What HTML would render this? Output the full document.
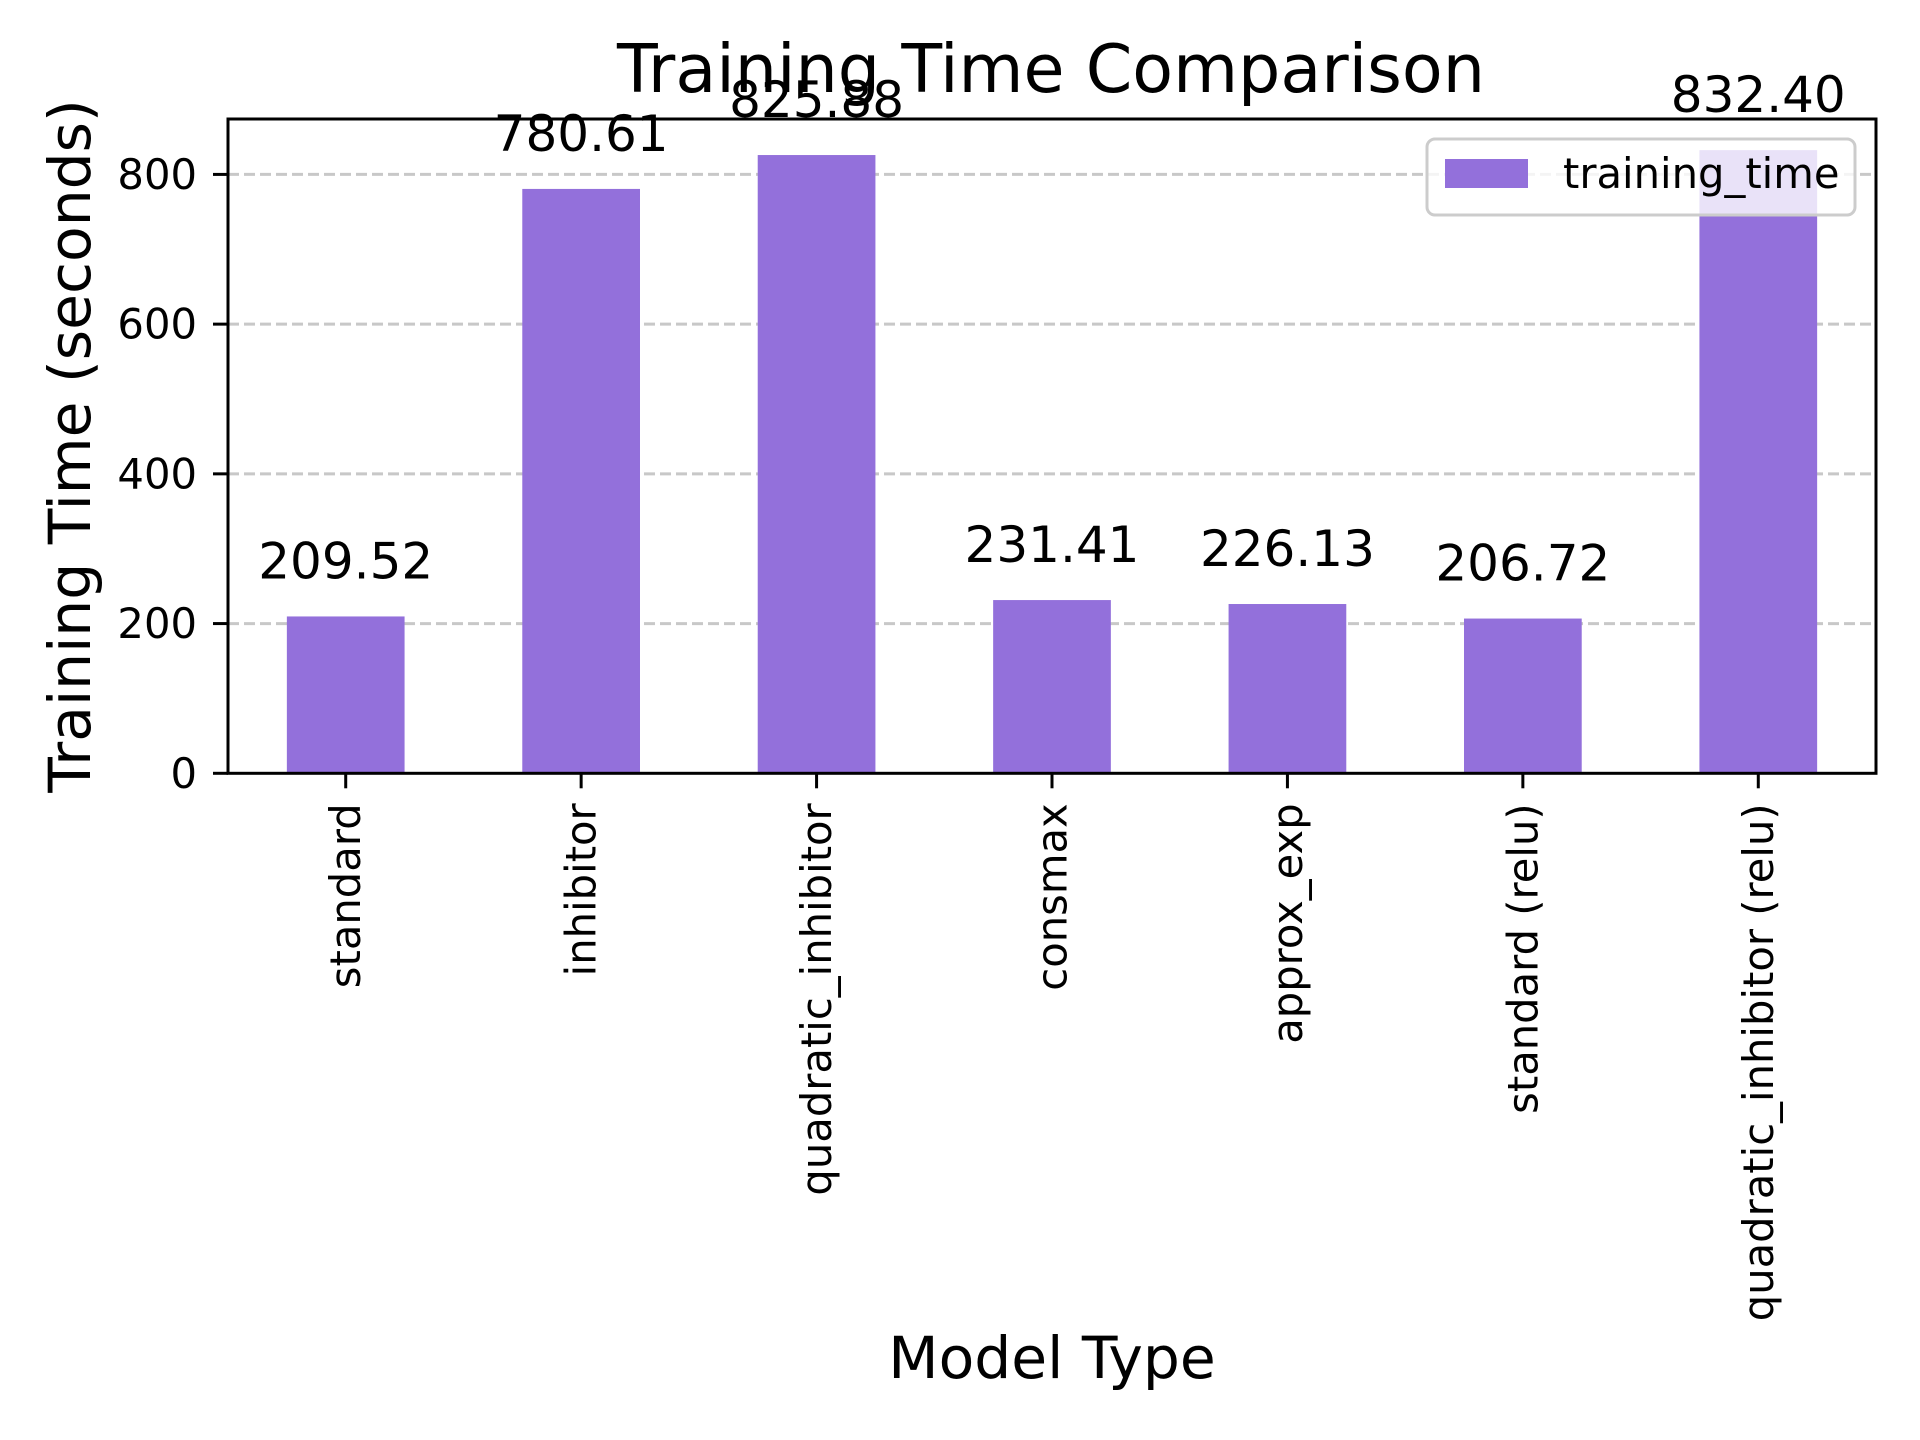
<!DOCTYPE html>
<html><head><meta charset="utf-8"><style>
html,body{margin:0;padding:0;background:#fff;}
svg{display:block;font-family:"DejaVu Sans","Liberation Sans",sans-serif;}
</style></head><body>
<svg id="chart" width="1920" height="1440" viewBox="0 0 1920 1440" xmlns="http://www.w3.org/2000/svg">
<rect width="1920" height="1440" fill="#fff"/>
<g id="grid"></g>
<g id="bars"></g>
<g id="labels"></g>
<g id="axes"></g>
<text x="1051" y="92" font-size="66.7" text-anchor="middle">Training Time Comparison</text>
<text x="1052" y="1378" font-size="58.3" text-anchor="middle">Model Type</text>
<text transform="translate(90,446) rotate(-90)" font-size="58.3" text-anchor="middle">Training Time (seconds)</text>
<g>
<rect x="1427" y="139" width="428" height="76" rx="8" fill="#fff" fill-opacity="0.8" stroke="#cccccc" stroke-width="3"/>
<rect x="1445" y="159" width="83" height="29" fill="#9370DB"/>
<text x="1563" y="188" font-size="41.7">training_time</text>
</g>
</svg>
<script>
const categories = ["standard","inhibitor","quadratic_inhibitor","consmax","approx_exp","standard (relu)","quadratic_inhibitor (relu)"];
const values = [209.52,780.61,825.88,231.41,226.13,206.72,832.40];
const valueLabels = ["209.52","780.61","825.88","231.41","226.13","206.72","832.40"];
const yTicks = [0,200,400,600,800];

const NS = "http://www.w3.org/2000/svg";
const L = 228, R = 1876, T = 119, B = 773.3;
const yMax = Math.max(...values) * 1.05;
const n = categories.length;
const step = (R - L) / n;
function xPos(i){ return L + step * (i + 0.5); }
function yPos(v){ return B - (v / yMax) * (B - T); }
function mk(tag, attrs, parent){
  const e = document.createElementNS(NS, tag);
  for (const k in attrs) e.setAttribute(k, attrs[k]);
  parent.appendChild(e); return e;
}
const grid = document.getElementById('grid');
const bars = document.getElementById('bars');
const labels = document.getElementById('labels');
const axes = document.getElementById('axes');

yTicks.forEach(t => {
  const y = yPos(t);
  if (t > 0) {
    const g = mk('line', {x1:L, x2:R, y1:y, y2:y, stroke:'#b0b0b0', 'stroke-opacity':0.7, 'stroke-width':3, 'stroke-dasharray':'11 5'}, grid);
    
    
  }
  const tk = mk('line', {x1:L-15, x2:L, y1:y, y2:y, stroke:'#000', 'stroke-width':3}, axes);
  
  
  const tl = mk('text', {x:L-31, y:y, 'font-size':41.7, 'text-anchor':'end', 'dominant-baseline':'central'}, axes);
  tl.textContent = String(t);
  
  
});

values.forEach((v, i) => {
  const cx = xPos(i), w = step * 0.5, y = yPos(v);
  const b = mk('rect', {x:cx - w/2, y:y, width:w, height:B - y, fill:'#9370DB'}, bars);
  
  
  const t = mk('text', {x:cx, y:y - 38, 'font-size':50, 'text-anchor':'middle'}, labels);
  t.textContent = valueLabels[i];
  
  
  const tk = mk('line', {x1:cx, x2:cx, y1:B, y2:B + 15, stroke:'#000', 'stroke-width':3}, axes);
  
  
  const xl = mk('text', {transform:'translate(' + cx + ',' + (B + 30) + ') rotate(-90)', 'font-size':41.7, 'text-anchor':'end', 'dominant-baseline':'central'}, axes);
  xl.textContent = categories[i];
  
  
});

const frame = mk('rect', {x:L, y:T, width:R-L, height:B-T, fill:'none', stroke:'#000', 'stroke-width':3}, axes);


</script>
</body></html>
